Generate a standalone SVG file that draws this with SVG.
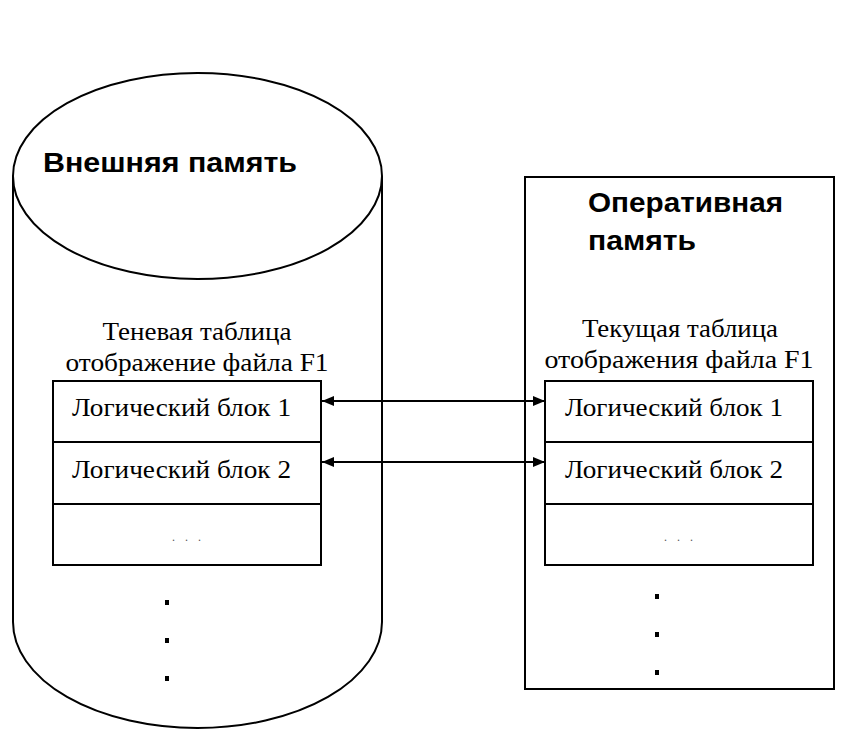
<svg xmlns="http://www.w3.org/2000/svg" width="852" height="752" viewBox="0 0 852 752">
<defs>
<style>
.ln{fill:none;stroke:#000;stroke-width:2}
.bg{fill:#fff;stroke:#000;stroke-width:2}
.hd{font-family:"Liberation Sans","DejaVu Sans",sans-serif;font-weight:bold;font-size:28px;fill:#000}
.sf{font-family:"Liberation Serif","DejaVu Serif",serif;font-size:26px;fill:#000}
.dt{fill:#000}
.sm{font-family:"Liberation Serif",serif;font-size:12px;fill:#555;letter-spacing:10px}
</style>
<marker id="ah" viewBox="0 0 12 10" refX="12" refY="5" markerWidth="12" markerHeight="10" markerUnits="userSpaceOnUse" orient="auto-start-reverse">
<path d="M0,0 L12,5 L0,10 Z" fill="#000"/>
</marker>
</defs>
<rect width="852" height="752" fill="#fff"/>
<g id="external-memory">
<path class="bg" d="M13,176 L13,622 A184.5,106 0 0 0 382,622 L382,176"/>
<ellipse class="bg" cx="197.5" cy="176" rx="184.5" ry="103"/>
<text class="hd" x="43" y="172" textLength="254" lengthAdjust="spacingAndGlyphs">Внешняя  память</text>
<text class="sf" x="197" y="340" text-anchor="middle" textLength="189" lengthAdjust="spacingAndGlyphs">Теневая таблица</text>
<text class="sf" x="197" y="371" text-anchor="middle" textLength="263" lengthAdjust="spacingAndGlyphs">отображение файла F1</text>
</g>
<g id="shadow-table">
<rect class="bg" x="53" y="381" width="268" height="184"/>
<line class="ln" x1="53" y1="442" x2="321" y2="442"/>
<line class="ln" x1="53" y1="504" x2="321" y2="504"/>
<text class="sf" x="72" y="416" textLength="219" lengthAdjust="spacingAndGlyphs">Логический блок 1</text>
<text class="sf" x="72" y="478" textLength="219" lengthAdjust="spacingAndGlyphs">Логический блок 2</text>
<text class="sm" x="172" y="541">...</text>
</g>
<g id="left-dots">
<rect class="dt" x="165" y="600" width="4" height="5"/>
<rect class="dt" x="165" y="638" width="4" height="5"/>
<rect class="dt" x="165" y="676" width="4" height="5"/>
</g>
<g id="ram">
<rect class="bg" x="525" y="177" width="309" height="512"/>
<text class="hd" x="588" y="212" textLength="195" lengthAdjust="spacingAndGlyphs">Оперативная</text>
<text class="hd" x="588" y="250" textLength="108" lengthAdjust="spacingAndGlyphs">память</text>
<text class="sf" x="680" y="337" text-anchor="middle" textLength="196" lengthAdjust="spacingAndGlyphs">Текущая таблица</text>
<text class="sf" x="679" y="368" text-anchor="middle" textLength="269" lengthAdjust="spacingAndGlyphs">отображения файла  F1</text>
</g>
<g id="current-table">
<rect class="bg" x="545" y="381" width="268" height="184"/>
<line class="ln" x1="545" y1="442" x2="813" y2="442"/>
<line class="ln" x1="545" y1="504" x2="813" y2="504"/>
<text class="sf" x="565" y="416" textLength="218" lengthAdjust="spacingAndGlyphs">Логический блок 1</text>
<text class="sf" x="565" y="478" textLength="218" lengthAdjust="spacingAndGlyphs">Логический блок 2</text>
<text class="sm" x="664" y="541">...</text>
</g>
<g id="right-dots">
<rect class="dt" x="655" y="594" width="4" height="5"/>
<rect class="dt" x="655" y="632" width="4" height="5"/>
<rect class="dt" x="655" y="670" width="4" height="5"/>
</g>
<g id="connectors">
<line class="ln" x1="322" y1="401" x2="545" y2="401" marker-start="url(#ah)" marker-end="url(#ah)"/>
<line class="ln" x1="322" y1="462" x2="545" y2="462" marker-start="url(#ah)" marker-end="url(#ah)"/>
</g>
</svg>
